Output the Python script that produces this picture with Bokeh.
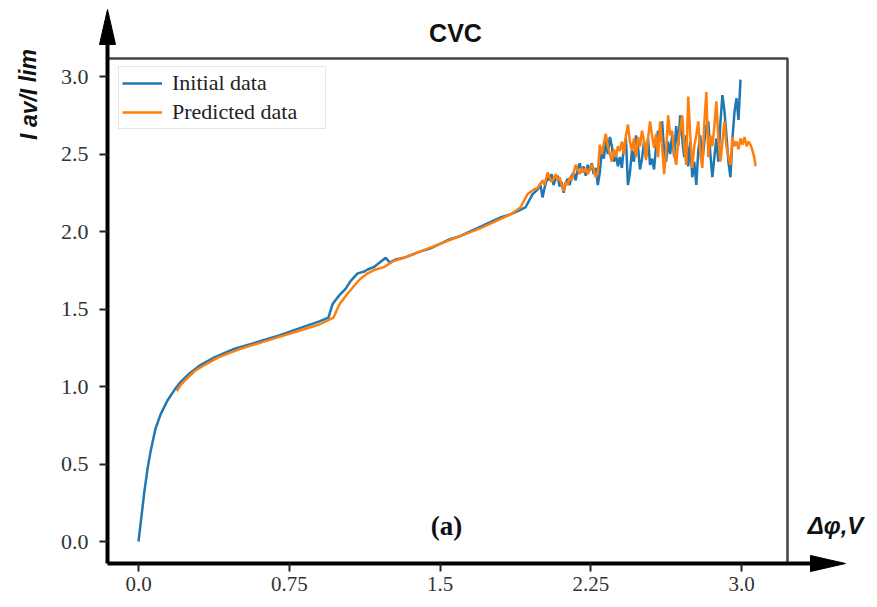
from bokeh.plotting import figure
from bokeh.models import Range1d, FixedTicker, Label, Legend, LegendItem
from bokeh.embed import file_html
from bokeh.resources import INLINE

# ---------------- data ----------------
x_ticks = [0.0, 0.75, 1.5, 2.25, 3.0]
x_tick_labels = ["0.0", "0.75", "1.5", "2.25", "3.0"]
y_ticks = [0.0, 0.5, 1.0, 1.5, 2.0, 2.5, 3.0]
y_tick_labels = ["0.0", "0.5", "1.0", "1.5", "2.0", "2.5", "3.0"]

initial_x = [0.0, 0.01, 0.02, 0.03, 0.045, 0.06, 0.085, 0.11, 0.144, 0.18, 0.21, 0.25,
             0.31, 0.38, 0.47, 0.6, 0.7, 0.81, 0.9, 0.945, 0.965, 1.0, 1.03, 1.055,
             1.09, 1.12, 1.14, 1.17, 1.2, 1.23, 1.25, 1.28, 1.32, 1.36, 1.4, 1.45,
             1.5, 1.55, 1.6, 1.65, 1.7, 1.75, 1.8, 1.85, 1.9, 1.925, 1.96,
             1.985, 2.0, 2.01, 2.02, 2.035, 2.045, 2.055, 2.065, 2.075, 2.085, 2.095,
             2.105, 2.115, 2.125, 2.135, 2.145, 2.155, 2.165, 2.175, 2.185, 2.195,
             2.205, 2.215, 2.225, 2.235, 2.245, 2.255, 2.265, 2.275, 2.285, 2.295,
             2.305, 2.315, 2.325, 2.335, 2.345, 2.355, 2.365, 2.375, 2.385, 2.395,
             2.405, 2.415, 2.425, 2.435, 2.445, 2.455, 2.465, 2.475, 2.485, 2.495,
             2.505, 2.515, 2.525, 2.535, 2.545, 2.555, 2.565, 2.575, 2.585, 2.595,
             2.605, 2.615, 2.625, 2.635, 2.645, 2.655, 2.665, 2.675, 2.685, 2.695,
             2.705, 2.715, 2.725, 2.735, 2.745, 2.755, 2.765, 2.775, 2.785, 2.795,
             2.805, 2.815, 2.825, 2.835, 2.845, 2.855, 2.865, 2.875, 2.885, 2.895,
             2.905, 2.915, 2.925, 2.935, 2.945, 2.955, 2.965, 2.975, 2.985, 2.995]
initial_y = [0.0, 0.11, 0.22, 0.33, 0.47, 0.58, 0.73, 0.82, 0.91, 0.98, 1.03, 1.08,
             1.14, 1.19, 1.24, 1.29, 1.33, 1.38, 1.42, 1.445, 1.53, 1.59, 1.63, 1.68,
             1.73, 1.74, 1.755, 1.77, 1.80, 1.83, 1.80, 1.82, 1.83, 1.85, 1.87, 1.89,
             1.92, 1.95, 1.97, 2.0, 2.03, 2.06, 2.09, 2.11, 2.14, 2.155, 2.24,
             2.27, 2.30, 2.22, 2.28, 2.35, 2.33, 2.37, 2.30, 2.34, 2.36, 2.29,
             2.32, 2.25, 2.31, 2.34, 2.30, 2.36, 2.38, 2.33, 2.40, 2.44,
             2.38, 2.42, 2.36, 2.43, 2.39, 2.44, 2.37, 2.41, 2.30, 2.38,
             2.52, 2.47, 2.58, 2.50, 2.61, 2.55, 2.45, 2.50, 2.42, 2.48,
             2.41, 2.55, 2.60, 2.30, 2.38, 2.52, 2.45, 2.62, 2.55, 2.40,
             2.47, 2.58, 2.48, 2.60, 2.43, 2.47, 2.40, 2.55, 2.65, 2.58,
             2.71, 2.52, 2.45, 2.58, 2.50, 2.62, 2.48, 2.68, 2.55, 2.75,
             2.60, 2.48, 2.62, 2.42, 2.58, 2.35, 2.45, 2.30, 2.52, 2.62,
             2.45, 2.58, 2.68, 2.71, 2.50, 2.35, 2.48, 2.60, 2.45, 2.70,
             2.88, 2.78, 2.62, 2.45, 2.35, 2.60, 2.77, 2.86, 2.72, 2.98]

predicted_x = [0.19, 0.21, 0.24, 0.28, 0.33, 0.4, 0.5, 0.6, 0.7, 0.8, 0.9, 0.97,
               1.0, 1.035, 1.07, 1.1, 1.14, 1.18, 1.22, 1.27, 1.32, 1.4, 1.5, 1.6,
               1.7, 1.8, 1.85, 1.9, 1.935, 1.965,
               1.985, 2.0, 2.01, 2.02, 2.035, 2.045, 2.055, 2.065, 2.075, 2.085, 2.095,
               2.105, 2.115, 2.125, 2.135, 2.145, 2.155, 2.165, 2.175, 2.185, 2.195,
               2.205, 2.215, 2.225, 2.235, 2.245, 2.255, 2.265, 2.275, 2.285, 2.295,
               2.305, 2.315, 2.325, 2.335, 2.345, 2.355, 2.365, 2.375, 2.385, 2.395,
               2.405, 2.415, 2.425, 2.435, 2.445, 2.455, 2.465, 2.475, 2.485, 2.495,
               2.505, 2.515, 2.525, 2.535, 2.545, 2.555, 2.565, 2.575, 2.585, 2.595,
               2.605, 2.615, 2.625, 2.635, 2.645, 2.655, 2.665, 2.675, 2.685, 2.695,
               2.705, 2.715, 2.725, 2.735, 2.745, 2.755, 2.765, 2.775, 2.785, 2.795,
               2.805, 2.815, 2.825, 2.835, 2.845, 2.855, 2.865, 2.875, 2.885, 2.895,
               2.905, 2.915, 2.925, 2.935, 2.945, 2.955, 2.965, 2.975, 2.985, 2.995,
               3.005, 3.015, 3.025, 3.035, 3.045, 3.055, 3.065, 3.07]
predicted_y = [0.97, 1.01, 1.05, 1.10, 1.14, 1.19, 1.24, 1.28, 1.32, 1.36, 1.40, 1.445,
               1.53, 1.59, 1.645, 1.69, 1.73, 1.755, 1.77, 1.81, 1.83, 1.87, 1.92, 1.97,
               2.02, 2.08, 2.11, 2.155, 2.24, 2.27,
               2.28, 2.31, 2.33, 2.30, 2.38, 2.35, 2.32, 2.34, 2.37, 2.33, 2.35,
               2.30, 2.26, 2.32, 2.30, 2.35, 2.33, 2.38, 2.43, 2.40, 2.37,
               2.41, 2.38, 2.41, 2.37, 2.40, 2.43, 2.40, 2.35, 2.38, 2.56,
               2.50, 2.57, 2.63, 2.55, 2.50, 2.45, 2.53, 2.48, 2.55, 2.52,
               2.58, 2.50, 2.62, 2.69, 2.58, 2.52, 2.60, 2.48, 2.61, 2.55,
               2.65, 2.58, 2.46, 2.60, 2.71, 2.62, 2.54, 2.63, 2.48, 2.71,
               2.55, 2.37, 2.52, 2.75, 2.62, 2.65, 2.50, 2.43, 2.58, 2.66,
               2.75, 2.55, 2.43, 2.87, 2.62, 2.41, 2.55, 2.62, 2.71, 2.50,
               2.41, 2.70, 2.90, 2.48, 2.62, 2.55, 2.68, 2.84, 2.60, 2.45,
               2.58, 2.71, 2.55, 2.48, 2.43, 2.61, 2.55, 2.58, 2.53, 2.60,
               2.56, 2.61, 2.55, 2.58, 2.56, 2.52, 2.47, 2.42]

# ---------------- layout (pixel geometry of the picture) ----------------
W, H = 869, 599
SHIFT = 6                                # move the whole drawing up a little
PX_PER_X, X_ORIGIN_PX = 201.0, 138.0     # x = 0 at 138 px, 201 px per unit
PX_PER_Y, Y_ORIGIN_PX = 155.0, 547.0     # y = 0 at 547 px, 155 px per unit


def dx(px):
    return (px - X_ORIGIN_PX) / PX_PER_X


def dy(py):
    return (Y_ORIGIN_PX - py) / PX_PER_Y


p = figure(width=W, height=H, output_backend="svg", toolbar_location=None,
           x_range=Range1d(dx(0), dx(W)),
           y_range=Range1d(dy(H + SHIFT), dy(SHIFT)),
           min_border=0, min_border_left=0, min_border_right=0,
           min_border_top=0, min_border_bottom=0)
p.outline_line_color = None
p.grid.visible = False
p.background_fill_color = "white"
p.border_fill_color = "white"

AX_X = dx(107)      # position of the vertical axis
AX_Y = dy(569)      # position of the horizontal axis

serif = "Liberation Serif"
for ax, ticks, labels in ((p.xaxis[0], x_ticks, x_tick_labels),
                          (p.yaxis[0], y_ticks, y_tick_labels)):
    ax.ticker = FixedTicker(ticks=ticks)
    ax.major_label_overrides = {t: l for t, l in zip(ticks, labels)}
    ax.axis_line_width = 4
    ax.axis_line_color = "black"
    ax.major_tick_line_width = 2
    ax.major_tick_line_color = "#222222"
    ax.major_tick_out = 8
    ax.major_tick_in = 0
    ax.minor_tick_line_color = None
    ax.major_label_text_font = serif
    ax.major_label_text_font_size = "22px"
    ax.major_label_text_color = "#333333"
p.xaxis.major_label_text_font_size = "21px"
p.yaxis[0].fixed_location = AX_X
p.yaxis[0].bounds = (AX_Y, dy(40))
p.xaxis[0].fixed_location = AX_Y
p.xaxis[0].bounds = (AX_X, dx(822))
p.xaxis.major_label_standoff = 5
p.yaxis.major_label_standoff = 11

# arrow heads
head_len, head_half = 35, 8
p.patch([AX_X - head_half / PX_PER_X, AX_X, AX_X + head_half / PX_PER_X],
        [dy(15 + head_len), dy(15), dy(15 + head_len)],
        fill_color="black", line_color="black", line_width=1)
p.patch([dx(845 - head_len), dx(845), dx(845 - head_len)],
        [AX_Y + head_half / PX_PER_Y, AX_Y, AX_Y - head_half / PX_PER_Y],
        fill_color="black", line_color="black", line_width=1)

# inner gray box (top and right sides)
p.line([AX_X, dx(787), dx(787)], [dy(64), dy(64), AX_Y], line_color="#444444",
       line_width=2.5)

r1 = p.line(initial_x, initial_y, line_color="#1f77b4", line_width=2.5)
r2 = p.line(predicted_x, predicted_y, line_color="#ff7f0e", line_width=2.5)

legend = Legend(items=[LegendItem(label="Initial data", renderers=[r1]),
                       LegendItem(label="Predicted data", renderers=[r2])],
                location=(118, H - 135 + SHIFT))
legend.label_text_font = serif
legend.label_text_font_size = "22px"
legend.label_text_color = "#222222"
legend.glyph_width = 40
legend.glyph_height = 26
legend.label_height = 26
legend.label_width = 150
legend.label_standoff = 10
legend.spacing = 3
legend.padding = 3
legend.margin = 0
legend.border_line_color = "#cccccc"
legend.border_line_width = 1
legend.background_fill_alpha = 1
p.add_layout(legend, "center")

p.add_layout(Label(x=dx(455), y=dy(38), text="CVC", text_align="center",
                   text_baseline="middle", text_font="Liberation Sans",
                   text_font_style="bold", text_font_size="25px",
                   text_color="#111111"))
p.add_layout(Label(x=dx(835), y=dy(531), text="Δφ,V", text_align="center",
                   text_baseline="middle", text_font="Liberation Sans",
                   text_font_style="bold italic", text_font_size="24px",
                   text_color="#111111"))
p.add_layout(Label(x=dx(446), y=dy(531), text="(a)", text_align="center",
                   text_baseline="middle", text_font=serif,
                   text_font_style="bold", text_font_size="27px",
                   text_color="#111111"))
p.add_layout(Label(x=dx(28), y=dy(100), text="I av/I lim", angle=1.5708,
                   text_align="center", text_baseline="middle",
                   text_font="Liberation Sans", text_font_style="bold italic",
                   text_font_size="23px", text_color="#111111"))

open("out.html", "w").write(file_html(p, INLINE))
